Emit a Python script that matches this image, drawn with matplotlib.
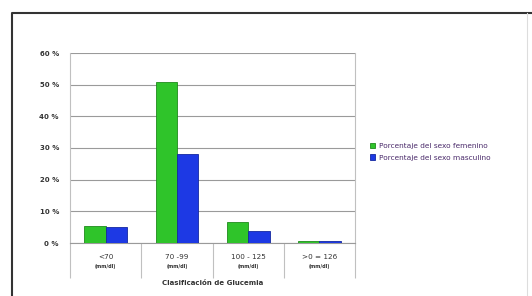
import numpy as np
import matplotlib
matplotlib.use("Agg")
from matplotlib import pyplot as plt
from matplotlib.lines import Line2D

# data
categories = ["<70", "70 -99", "100 - 125", ">0 = 126"]
units = ["(mm/dl)"] * 4
female_pct = [5.5, 51.0, 6.5, 0.5]
male_pct = [5.0, 28.0, 3.8, 0.7]
y_ticks = [0, 10, 20, 30, 40, 50, 60]
series_labels = ["Porcentaje del sexo femenino", "Porcentaje del sexo masculino"]

GREEN = "#2fc42a"
BLUE = "#1d39e4"
GRID = "#9a9a9a"

fig = plt.figure(figsize=(5.32, 2.96), dpi=100)
fig.patch.set_facecolor("white")

# outer frame of the pasted chart: dark top/left, faint right
x0, y0, x1 = 12 / 532, 1 - 13 / 296, 527 / 532
fig.add_artist(Line2D([x0, x0, 1.0], [0, y0, y0], transform=fig.transFigure,
                      color="#333333", linewidth=1.5))
fig.add_artist(Line2D([x1, x1], [0, y0], transform=fig.transFigure,
                      color="#dddddd", linewidth=0.8))

ax = fig.add_axes([70 / 532, 1 - 243 / 296, 285 / 532, 190 / 296])
x = np.arange(len(categories))
w = 0.3
ax.bar(x - w / 2, female_pct, w, color=GREEN, edgecolor="#1f8a1c",
       linewidth=0.6, label=series_labels[0], zorder=3)
ax.bar(x + w / 2, male_pct, w, color=BLUE, edgecolor="#1428a0",
       linewidth=0.6, label=series_labels[1], zorder=3)

ax.set_xlim(-0.5, len(categories) - 0.5)
ax.set_ylim(0, 60)
ax.set_yticks(y_ticks)
ax.set_yticklabels([f"{v} %" for v in y_ticks], fontsize=5, fontweight="bold",
                   color="#333333")
ax.yaxis.grid(True, color=GRID, linewidth=0.8, zorder=0)
ax.tick_params(axis="y", length=0, pad=8)

# category dividers as long ticks
ax.set_xticks(np.arange(-0.5, len(categories), 1.0))
ax.set_xticklabels([])
ax.tick_params(axis="x", length=25, color="#c0c0c0", width=0.8)
for i, (c, u) in enumerate(zip(categories, units)):
    ax.text(i, -0.075, c, transform=ax.get_xaxis_transform(), ha="center",
            va="center", fontsize=5.2, color="#333333")
    ax.text(i, -0.125, u, transform=ax.get_xaxis_transform(), ha="center",
            va="center", fontsize=3.5, fontweight="bold", color="#333333")
ax.text(1.5, -0.21, "Clasificación de Glucemia", transform=ax.get_xaxis_transform(),
        ha="center", va="center", fontsize=5, fontweight="bold", color="#333333")

ax.spines["top"].set_visible(False)
ax.spines["left"].set_color("#c0c0c0")
ax.spines["right"].set_color("#c0c0c0")
ax.spines["bottom"].set_color(GRID)

ax.legend(loc="center left", bbox_to_anchor=(1.03, 0.48), frameon=False,
          fontsize=5.3, handlelength=0.7, handleheight=0.7, handletextpad=0.5,
          labelspacing=0.7, labelcolor="#4a2a6a")

fig.savefig("out.png", dpi=100)
